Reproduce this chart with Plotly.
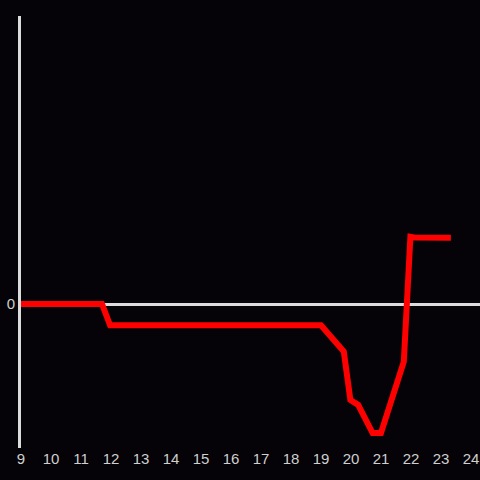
import plotly.graph_objects as go

BG = "#050307"
AXIS_COLOR = "#dcdcdc"
TEXT_COLOR = "#cfcfcf"

hours = [9.0, 11.7, 11.97, 19.0, 19.76, 19.98, 20.24, 20.72, 21.0, 21.76, 21.98, 22.1, 23.33]
values = [0.0, 0.0, -0.148, -0.148, -0.331, -0.667, -0.701, -0.896, -0.896, -0.40, 0.467, 0.462, 0.46]

x_ticks = list(range(9, 25))

fig = go.Figure()
fig.add_trace(
    go.Scatter(
        x=hours,
        y=values,
        mode="lines",
        line=dict(color="#ff0000", width=6),
        showlegend=False,
        hoverinfo="skip",
    )
)

fig.update_layout(
    width=480,
    height=480,
    paper_bgcolor=BG,
    plot_bgcolor=BG,
    margin=dict(l=21, r=0, t=16, b=32),
    font=dict(family="Liberation Sans, Arial, sans-serif", size=15, color=TEXT_COLOR),
)
fig.update_xaxes(
    range=[9, 24.3],
    tickvals=x_ticks,
    ticktext=[str(t) for t in x_ticks],
    showgrid=False,
    zeroline=False,
    showline=False,
    ticks="",
    ticklen=0,
)
fig.update_yaxes(
    range=[-1, 2],
    tickvals=[0],
    ticktext=["0"],
    showgrid=False,
    zeroline=True,
    zerolinecolor=AXIS_COLOR,
    zerolinewidth=3,
    showline=True,
    linecolor=AXIS_COLOR,
    linewidth=3,
    ticks="",
)

# drop the default page margin so the chart fills the window
fig.write_html(
    "out.html",
    config={"displayModeBar": False},
    post_script="document.body.style.margin='0';document.body.style.background='%s';" % BG,
)
